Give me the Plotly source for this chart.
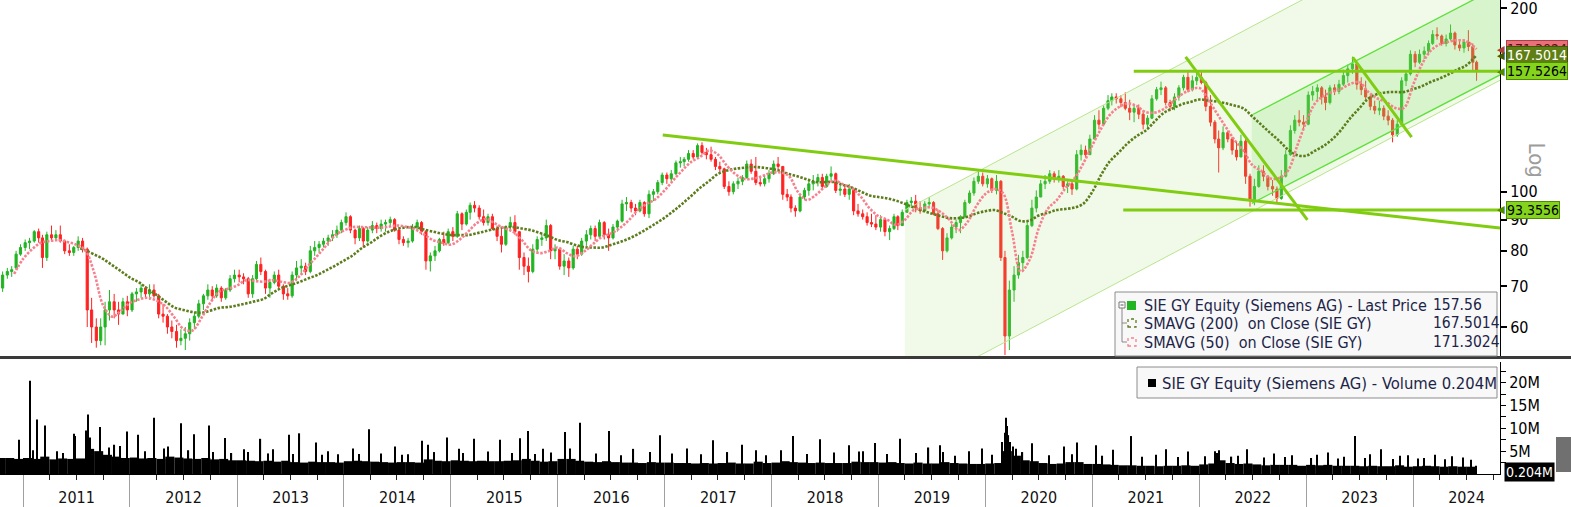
import numpy as np
import plotly.graph_objects as go

# ---------------------------------------------------------------- data
# semi-monthly candles
candle_dates = (['2010-10-23', '2010-11-08', '2010-11-23', '2010-12-08', '2010-12-23']
                + [f'{y}-{m:02d}-{d:02d}' for y in range(2011, 2024) for m in range(1, 13) for d in (8, 23)]
                + [f'2024-{m:02d}-{d:02d}' for m in range(1, 8) for d in (8, 23)] + ['2024-08-05'])

opens = [
    69.5, 73, 74, 75, 79,
    81, 82.5, 83, 86, 84, 78, 85, 84, 85, 83, 80, 79.5, 81, 83, 80.5, 64, 60, 57, 60, 64, 66, 64, 63, 66,
    64, 68, 68.5, 69.5, 68, 69, 67.5, 63, 62.5, 60, 59, 57, 57.5, 58.5, 61, 62.5, 65.5, 67.5, 69, 67.5, 69.5, 67, 69, 72,
    73, 72.5, 72, 68, 72, 76, 74, 69.5, 71, 73, 70, 68, 67.5, 73, 75, 75.5, 74, 80, 81, 82, 83, 84, 85, 86.5,
    89, 91, 86.5, 84, 87, 83, 86.5, 88, 87, 88.5, 89, 90, 86.5, 83.5, 82.5, 83, 87.5, 89, 86, 77, 78.5, 80, 83.5, 82.5,
    86, 84.5, 92, 88.5, 92.5, 95, 94, 91, 89, 91, 87, 84.5, 82, 87.5, 89, 86, 78, 75.5, 74, 80.5, 83.5, 84, 88, 80,
    80.5, 75.5, 77, 75, 80.5, 79, 83, 85, 87, 84.5, 89, 85, 84, 87.5, 89.5, 95.5, 96, 94, 93, 96, 92, 99, 100, 103.5,
    106.5, 105, 107, 111.5, 112, 113, 115.5, 114, 119, 116, 115, 113, 110, 109, 102, 100, 103, 104, 105.5, 111, 108, 103.5, 103, 105,
    107, 111, 110, 99, 98, 94, 93, 98, 100.5, 103, 104, 105.5, 102, 106, 107, 100.5, 101, 99, 101, 93, 92, 91, 89, 88.5,
    87.5, 90, 86, 87, 91, 88, 92.5, 96, 96.5, 94, 93, 95.5, 96, 92, 87, 80, 84, 87.5, 89, 91, 96, 99.5, 104, 106,
    103, 105, 100.5, 104, 78, 58, 69, 73, 76.5, 78, 88, 94, 98, 103, 104, 107, 105, 106, 102, 103, 101, 115, 117, 115,
    122, 131, 129, 137, 141, 143, 142, 140, 137, 135, 137, 134, 129, 132, 142, 147, 148, 140, 138, 143, 148, 154, 147, 152,
    154, 151, 138, 130, 122, 118, 125, 122, 117, 114, 121, 106, 97, 102, 108, 106, 102, 101, 97.5, 106, 115, 126, 131, 130,
    129, 144, 146, 148, 143, 140, 148, 146, 150, 155, 159, 162, 150, 147, 143, 138, 136, 137, 133, 131, 124, 129, 152, 156,
    168, 163, 168, 170, 175, 181, 180, 175, 178, 182, 174, 172, 176, 173, 163,
]
highs = [
    74, 75, 75.5, 80, 82,
    83.5, 84, 86.5, 87, 85, 86, 88, 86.5, 88, 83.5, 82, 81.5, 84.5, 84, 81, 67, 62, 62, 66, 69, 68, 66, 67, 67.5,
    68.5, 69.5, 70.5, 70, 70.5, 70.5, 68, 65.5, 63, 61.5, 60.5, 59.5, 60, 62, 63.5, 66.5, 68, 70.5, 70, 70.5, 70, 69.5, 73, 74.5,
    74.5, 73.5, 72.5, 73, 77, 78, 74.5, 72, 74, 74.5, 70.5, 69.5, 74, 77, 77.5, 76.5, 81.5, 83, 83, 84, 85, 86.5, 88, 90,
    92.5, 91.5, 87, 88, 87.5, 87.5, 89.5, 89, 90, 90, 91, 90.5, 87, 84.5, 84, 88.5, 90, 89.5, 86.5, 79.5, 81.5, 84, 86, 87,
    87.5, 93, 92.5, 93.5, 96, 96.5, 95, 93.5, 92, 92, 88, 87, 88, 91, 91.5, 86, 79.5, 78, 82, 84.5, 85.5, 90, 88.5, 82,
    80.5, 79, 78, 81.5, 81.5, 84, 86.5, 88, 88, 90, 89.5, 87, 88.5, 90, 97, 98, 97, 95.5, 97, 96.5, 100.5, 101, 104.5, 107.5,
    107.5, 108.5, 112.5, 114, 114, 117, 117, 120, 120.5, 118, 118.5, 114, 112, 109.5, 104, 104, 105.5, 106.5, 112.5, 113, 114, 105.5, 106.5, 108.5,
    112.5, 114, 110, 101, 99, 95, 99, 101.5, 105, 106.5, 107, 107, 107, 110, 107.5, 103, 102.5, 103, 101.5, 95.5, 93.5, 92.5, 92, 91.5,
    91.5, 90.5, 88, 92, 91.5, 93.5, 97, 98, 98.8, 96.5, 96.5, 98, 96.5, 93.5, 87.5, 85.5, 88.5, 90, 91.5, 97, 100.5, 105.5, 108.5, 107.5,
    106.5, 105.5, 106.5, 104.5, 80, 71.5, 75.5, 78.8, 80, 89.5, 97, 100.5, 104.5, 106.5, 108.5, 108, 108.5, 106.5, 104, 104.5, 117, 119.5, 119, 124,
    133.5, 136, 138.5, 144, 145, 145, 144, 145.5, 141.5, 139, 139, 136, 133.5, 144, 148.5, 151.5, 149, 141.5, 145, 149.5, 155.5, 157.5, 155, 157,
    158, 152, 144, 131, 126, 128, 126, 123, 121, 124, 122, 107, 105, 110.5, 110.5, 106.5, 104.5, 102, 108.5, 117, 128.5, 133.5, 136, 133.5,
    146, 149, 150, 149, 147, 149.5, 150, 152.5, 158.5, 161.5, 166.5, 163, 154, 152, 144, 141, 141, 138.5, 136, 132, 131, 154, 158, 170.5,
    170, 171, 173, 177, 184, 186, 181, 181, 188, 183, 177, 178, 184, 175, 164,
]
lows = [
    68.5, 72, 72.5, 74.5, 78.5,
    80, 80.5, 82.5, 82.5, 75, 77, 83, 83, 82.5, 79, 78.5, 78.5, 80, 79.5, 60, 56.5, 55.5, 56, 56, 61.5, 62, 60.5, 63, 62.5,
    63.5, 66, 67, 67, 66.5, 67, 62, 61, 58.5, 57.5, 55.5, 56, 55, 57, 59.5, 62, 64, 66.5, 66.5, 67, 66, 66.5, 68.5, 71,
    71, 70.5, 67, 67, 71.5, 73, 68, 67, 70.5, 69.5, 66.5, 66.5, 67, 71.5, 73, 73, 73.5, 78.5, 79.5, 81, 81.5, 83, 84, 85.5,
    88, 85.5, 82, 83, 81, 82.5, 85.5, 85.5, 86, 86, 87.5, 86, 82, 81.5, 81, 82.5, 86.5, 85, 74.5, 74, 77, 79.5, 81.5, 82,
    83, 84, 86.5, 88, 90, 92.5, 90, 88, 88, 86.5, 83, 79.5, 81.5, 86, 85, 74.5, 73, 71, 73.5, 79.5, 81.5, 83, 77.5, 77.5,
    74.5, 73, 72.5, 74.5, 77.5, 78.5, 81.5, 83.5, 83, 84, 83.5, 80, 83.5, 86, 89, 93, 92.5, 91.5, 92.5, 91, 90.5, 96.5, 99, 102.5,
    103, 104, 106.5, 109.5, 110, 112, 113, 113.5, 115, 113, 112, 108.5, 107.5, 101, 98.5, 99, 101, 102.5, 105, 107, 102.5, 102, 102, 103.5,
    106.5, 108.5, 97, 96.5, 92.5, 91, 92.5, 97, 98.5, 100.5, 102, 101, 101.5, 104.5, 99.5, 98.5, 98, 97, 91.5, 91, 90, 88, 87.5, 86.5,
    86, 84.5, 83.3, 86.5, 86.5, 88, 92.5, 94.5, 92.5, 92, 93, 94.5, 91.5, 86.5, 77.3, 79.5, 83.5, 85.5, 85.5, 90.5, 95.5, 98.5, 103, 102,
    101.5, 99.5, 99, 77, 54, 55, 66, 72, 74, 77.5, 87.5, 92.5, 98, 101, 103, 103.5, 103.5, 101, 99.5, 98.8, 100.5, 112.5, 113.5, 115,
    121.5, 126.5, 128.5, 136, 138.5, 139.5, 137.5, 136, 131, 130, 131.5, 126.5, 126.5, 131.5, 141, 144, 138.5, 135.5, 136, 141, 146.5, 145.5, 146, 149.5,
    150, 135.5, 128, 120, 107.5, 117, 120.5, 115, 112.5, 114, 103, 94.5, 95, 101.5, 104, 100.5, 98.5, 96, 97, 105.5, 114.5, 124.5, 128, 126,
    128.5, 141, 141.5, 139, 136, 139, 144, 144.5, 149, 151, 156, 147, 144, 141.5, 136, 134, 133.5, 131, 128.5, 120.5, 123, 128.5, 149, 155,
    160, 162, 165, 167.5, 174, 177.5, 173.5, 173, 177, 171, 170, 169, 170, 158, 152,
]
closes = [
    73, 74, 74.5, 79, 81,
    82.5, 83, 86, 84, 78, 85, 84, 85, 83, 80, 79.5, 81, 83, 80.5, 64, 60, 57, 60, 64, 66, 64, 63, 66, 64,
    68, 68.5, 69.5, 68, 69, 67.5, 63, 62.5, 60, 59, 57, 57.5, 58.5, 61, 62.5, 65.5, 67.5, 69, 67.5, 69.5, 67, 69, 72, 73,
    72.5, 72, 68, 72, 76, 74, 69.5, 71, 73, 70, 68, 67.5, 73, 75, 75.5, 74, 80, 81, 82, 83, 84, 85, 86.5, 89,
    91, 86.5, 84, 87, 83, 86.5, 88, 87, 88.5, 89, 90, 86.5, 83.5, 82.5, 83, 87.5, 89, 86, 77, 78.5, 80, 83.5, 82.5, 86,
    84.5, 92, 88.5, 92.5, 95, 94, 91, 89, 91, 87, 84.5, 82, 87.5, 89, 86, 78, 75.5, 74, 80.5, 83.5, 84, 88, 80, 80.5,
    75.5, 77, 75, 80.5, 79, 83, 85, 87, 84.5, 89, 85, 84, 87.5, 89.5, 95.5, 96, 94, 93, 96, 92, 99, 100, 103.5, 106.5,
    105, 107, 111.5, 112, 113, 115.5, 114, 119, 116, 115, 113, 110, 109, 102, 100, 103, 104, 105.5, 111, 108, 103.5, 103, 105, 107,
    111, 110, 99, 98, 94, 93, 98, 100.5, 103, 104, 105.5, 102, 106, 107, 100.5, 101, 99, 101, 93, 92, 91, 89, 88.5, 87.5,
    90, 86, 87, 91, 88, 92.5, 96, 96.5, 94, 93, 95.5, 96, 92, 87, 80, 84, 87.5, 89, 91, 96, 99.5, 104, 106, 103,
    105, 100.5, 104, 78, 58, 69, 73, 76.5, 78, 88, 94, 98, 103, 104, 107, 105, 106, 102, 103, 101, 115, 117, 115, 122,
    131, 129, 137, 141, 143, 142, 140, 137, 135, 137, 134, 129, 132, 142, 147, 148, 140, 138, 143, 148, 154, 147, 152, 154,
    151, 138, 130, 122, 118, 125, 122, 117, 114, 121, 106, 97, 102, 108, 106, 102, 101, 97.5, 106, 115, 126, 131, 130, 129,
    144, 146, 148, 143, 140, 148, 146, 150, 155, 159, 162, 150, 147, 143, 138, 136, 137, 133, 131, 124, 129, 152, 156, 168,
    163, 168, 170, 175, 181, 180, 175, 178, 182, 174, 172, 176, 173, 163, 157.56,
]

# moving averages, monthly readings
sma200_dates = (['2011-07-15'] + [f'2011-{m:02d}-01' for m in range(8, 13)]
                + [f'{y}-{m:02d}-01' for y in range(2012, 2024) for m in range(1, 13)]
                + [f'2024-{m:02d}-01' for m in range(1, 8)] + ['2024-08-05'])
sma200 = [
    80.8, 80.2, 78.9, 77.6, 75.8, 74.1,
    72.3, 71.0, 69.3, 67.7, 66.1, 64.6, 64.0, 63.5, 63.3, 63.8, 64.5, 64.7,
    65.1, 65.6, 66.1, 66.7, 68.2, 69.5, 70.3, 71.1, 72.1, 73.0, 74.3, 75.6,
    77.1, 78.7, 80.7, 82.4, 84.3, 85.9, 86.9, 87.4, 87.5, 86.7, 86.0, 85.4,
    84.9, 84.9, 84.9, 85.5, 86.2, 86.9, 87.4, 87.5, 87.0, 86.5, 85.6, 84.6,
    83.3, 82.7, 81.8, 81.1, 81.0, 81.0, 81.8, 82.7, 83.8, 85.2, 86.9, 88.7,
    90.7, 93.1, 95.5, 98.4, 101.4, 104.1, 106.9, 108.3, 109.1, 109.5, 109.8, 109.5,
    109.0, 108.1, 106.9, 105.9, 104.8, 103.7, 103.7, 103.7, 102.6, 101.6, 100.1, 98.6,
    98.0, 97.5, 96.7, 95.5, 94.2, 93.1, 92.1, 91.2, 90.5, 90.5, 91.0, 92.1,
    92.9, 93.3, 92.3, 91.0, 89.5, 89.7, 91.4, 92.3, 93.3, 93.7, 94.2, 95.6,
    100.1, 106.9, 112.1, 116.0, 120.0, 123.4, 125.9, 130.3, 134.6, 136.9, 139.0, 140.3,
    141.6, 141.1, 140.5, 139.6, 138.4, 136.9, 132.8, 128.7, 124.7, 121.1, 117.1, 114.8,
    114.6, 116.8, 118.8, 122.0, 126.4, 132.1, 136.9, 142.1, 144.6, 145.5, 145.7, 145.7,
    147.3, 149.0, 151.3, 153.3, 155.7, 158.6, 161.1, 167.5014,
]
sma50_dates = (['2010-12-01'] + [f'{y}-{m:02d}-01' for y in range(2011, 2024) for m in range(1, 13)]
               + [f'2024-{m:02d}-01' for m in range(1, 8)] + ['2024-08-05'])
sma50 = [
    73.3,
    77.6, 80.5, 82.4, 83.0, 83.3, 82.7, 81.9, 80.2, 73.6, 65.2, 62.4, 63.8,
    65.7, 66.6, 67.0, 66.3, 64.9, 62.2, 59.6, 59.2, 62.1, 65.7, 68.6, 69.3,
    70.2, 71.6, 71.4, 71.2, 71.6, 71.2, 70.9, 72.6, 75.6, 78.4, 81.6, 84.8,
    86.4, 87.5, 87.5, 87.4, 87.3, 87.6, 88.0, 87.6, 86.7, 85.1, 83.3, 82.5,
    81.9, 83.5, 86.0, 88.9, 90.2, 88.7, 87.2, 86.0, 83.3, 80.2, 79.3, 79.9,
    81.0, 79.3, 78.4, 79.8, 82.1, 84.4, 85.4, 87.2, 89.9, 93.3, 95.5, 97.3,
    100.6, 104.7, 108.3, 111.9, 114.0, 116.8, 115.1, 110.3, 106.7, 104.9, 105.1, 106.1,
    107.5, 107.5, 106.1, 99.9, 96.9, 98.8, 101.8, 104.3, 102.9, 101.4, 98.2, 94.0,
    91.2, 89.9, 88.2, 89.9, 93.3, 94.0, 94.2, 92.6, 89.9, 86.5, 89.2, 94.7,
    99.1, 101.0, 99.5, 86.0, 74.0, 77.5, 87.0, 93.7, 96.9, 101.4, 105.3, 111.4,
    119.3, 127.3, 133.6, 137.6, 139.5, 138.2, 135.1, 134.8, 136.6, 140.3, 144.3, 146.8,
    147.9, 141.4, 134.6, 127.7, 121.6, 116.6, 110.6, 108.1, 105.1, 105.3, 108.5, 118.8,
    130.1, 139.8, 143.5, 145.8, 147.5, 150.2, 151.3, 145.7, 142.2, 140.3, 137.2, 137.2,
    149.6, 162.0, 170.2, 174.4, 176.1, 177.1, 176.4, 171.3024,
]

# volume (millions): monthly typical level + individual spike days
vol_month_dates = (['2010-10-16', '2010-11-16', '2010-12-16']
                   + [f'{y}-{m:02d}-16' for y in range(2011, 2024) for m in range(1, 13)]
                   + [f'2024-{m:02d}-16' for m in range(1, 8)] + ['2024-08-03'])
vol_month = [
    3.5, 3.5, 3.3,
    3.5, 3.3, 3.8, 3.2, 3.4, 3.3, 3.4, 5.5, 5.0, 4.2, 3.8, 3.5,
    3.6, 3.4, 3.5, 3.3, 3.8, 3.6, 3.4, 3.3, 3.5, 3.2, 3.3, 3.0,
    3.0, 2.9, 2.8, 2.9, 2.7, 2.9, 2.6, 2.5, 2.7, 2.6, 2.6, 2.5,
    2.8, 2.9, 2.8, 2.7, 2.6, 2.5, 2.6, 2.6, 2.5, 3.2, 2.9, 2.8,
    3.0, 2.9, 2.8, 2.9, 2.8, 2.8, 2.9, 3.0, 3.3, 2.9, 2.7, 2.8,
    3.3, 3.3, 2.9, 2.7, 2.6, 2.8, 2.6, 2.5, 2.5, 2.4, 2.6, 2.5,
    2.5, 2.4, 2.4, 2.3, 2.4, 2.3, 2.4, 2.5, 2.3, 2.3, 2.7, 2.4,
    2.5, 2.8, 2.6, 2.5, 2.4, 2.5, 2.4, 2.4, 2.4, 2.7, 2.6, 2.6,
    2.5, 2.6, 2.4, 2.3, 2.5, 2.3, 2.3, 2.6, 2.4, 2.3, 2.2, 2.2,
    2.3, 2.4, 5.0, 4.0, 3.0, 2.8, 2.4, 2.2, 2.3, 2.6, 2.6, 2.2,
    2.2, 2.1, 2.0, 1.9, 1.9, 1.8, 1.8, 1.7, 1.8, 1.8, 1.9, 1.8,
    2.1, 2.3, 3.0, 2.4, 2.2, 2.3, 2.1, 1.9, 2.0, 2.0, 2.0, 1.8,
    2.0, 1.9, 2.0, 1.8, 1.8, 1.8, 1.7, 1.8, 1.7, 1.7, 1.9, 1.6,
    1.7, 1.8, 1.7, 1.6, 1.7, 1.6, 1.6, 1.8,
]
vol_spikes = [
    ('2010-12-17', 7.5), ('2011-01-25', 20.4), ('2011-02-18', 11.9), ('2011-03-18', 10.6),
    ('2011-06-24', 8.8), ('2011-06-28', 8.3), ('2011-08-05', 9.5), ('2011-08-10', 13.0),
    ('2011-08-18', 8.0), ('2011-09-20', 10.3), ('2011-11-09', 6.4), ('2011-11-28', 6.1),
    ('2011-12-22', 9.3), ('2012-01-27', 8.6), ('2012-03-22', 12.3), ('2012-05-10', 6.0),
    ('2012-06-22', 11.1), ('2012-08-06', 8.7), ('2012-09-28', 10.6), ('2012-11-20', 7.9),
    ('2013-01-24', 5.4), ('2013-03-22', 7.7), ('2013-05-03', 5.4), ('2013-06-27', 8.6),
    ('2013-08-02', 8.9), ('2013-09-27', 6.9), ('2013-11-07', 5.0), ('2014-01-31', 5.6),
    ('2014-03-27', 9.8), ('2014-06-24', 6.0), ('2014-08-07', 4.3), ('2014-09-24', 7.3),
    ('2014-10-16', 6.4), ('2014-12-19', 8.0), ('2015-01-29', 5.5), ('2015-03-20', 7.7),
    ('2015-06-19', 7.5), ('2015-08-24', 7.8), ('2015-09-21', 9.4), ('2015-11-12', 5.5),
    ('2016-01-26', 9.2), ('2016-03-18', 11.2), ('2016-06-24', 9.4), ('2016-09-16', 5.5),
    ('2016-12-16', 8.5), ('2017-03-17', 5.6), ('2017-06-16', 7.4), ('2017-09-22', 6.4),
    ('2017-11-09', 5.2), ('2018-03-16', 8.3), ('2018-06-15', 7.6), ('2018-09-21', 6.3),
    ('2018-11-08', 5.0), ('2018-12-21', 6.8), ('2019-03-15', 7.7), ('2019-06-21', 5.8),
    ('2019-07-31', 6.3), ('2019-11-07', 5.0), ('2019-12-20', 5.6), ('2020-02-28', 7.0),
    ('2020-03-09', 9.0), ('2020-03-12', 12.3), ('2020-03-16', 10.5), ('2020-03-20', 8.5),
    ('2020-03-24', 7.0), ('2020-04-03', 6.0), ('2020-04-16', 5.5), ('2020-06-08', 6.7),
    ('2020-09-25', 6.0), ('2020-11-09', 6.9), ('2021-01-13', 6.3), ('2021-03-12', 5.3),
    ('2021-05-14', 8.3), ('2021-08-05', 4.2), ('2021-09-09', 5.4), ('2021-11-23', 4.9),
    ('2022-02-23', 5.0), ('2022-03-04', 4.6), ('2022-03-08', 5.2), ('2022-05-12', 4.0),
    ('2022-06-13', 5.4), ('2022-09-12', 4.5), ('2022-11-14', 4.1), ('2023-02-06', 4.2),
    ('2023-03-16', 4.7), ('2023-05-11', 3.8), ('2023-06-16', 8.3), ('2023-08-07', 4.3),
    ('2023-09-13', 5.4), ('2023-10-24', 3.3), ('2023-11-16', 4.0), ('2023-12-15', 4.1),
    ('2024-02-08', 3.5), ('2024-03-15', 4.2), ('2024-05-13', 3.9), ('2024-06-21', 3.6),
    # smaller spikes giving the ragged top of the volume mass
    ('2011-02-03', 5.2), ('2011-04-28', 5.0), ('2011-05-17', 4.6), ('2011-10-20', 5.8),
    ('2012-02-22', 5.0), ('2012-04-26', 5.6), ('2012-07-19', 5.2), ('2012-10-11', 4.8),
    ('2012-12-13', 4.6), ('2013-02-07', 4.8), ('2013-04-18', 4.5), ('2013-07-11', 4.4),
    ('2013-10-17', 4.2), ('2013-12-12', 4.3), ('2014-02-20', 4.4), ('2014-05-08', 4.5),
    ('2014-07-17', 4.2), ('2014-11-06', 4.8), ('2015-02-12', 4.6), ('2015-05-07', 4.9),
    ('2015-07-30', 4.6), ('2015-10-15', 4.4), ('2015-12-10', 4.7), ('2016-02-11', 5.6),
    ('2016-05-12', 4.5), ('2016-08-04', 4.1), ('2016-11-10', 4.8), ('2017-01-26', 4.5),
    ('2017-05-05', 4.3), ('2017-08-03', 4.8), ('2017-12-14', 4.1), ('2018-02-01', 5.2),
    ('2018-05-03', 4.4), ('2018-08-02', 4.7), ('2018-10-25', 4.9), ('2019-01-31', 4.4),
    ('2019-05-08', 4.6), ('2019-08-08', 4.8), ('2019-09-20', 4.0), ('2020-01-23', 4.2),
    ('2020-05-07', 4.8), ('2020-08-06', 4.1), ('2020-10-22', 4.3), ('2021-02-04', 4.0),
    ('2021-06-18', 3.8), ('2021-10-21', 3.7), ('2022-01-20', 3.9), ('2022-04-21', 3.8),
    ('2022-08-11', 3.6), ('2022-10-20', 3.7), ('2023-01-19', 3.5), ('2023-04-20', 3.4),
    ('2023-07-20', 3.5), ('2024-01-18', 3.4), ('2024-04-18', 3.2), ('2024-07-18', 3.1),
]

# drawn annotations (trend lines / channels), endpoints
resist_dates, resist_vals = ['2016-12-25', '2024-10-24'], [123.9, 87.2]
down_a_dates, down_a_vals = ['2021-11-15', '2023-01-05'], [166.4, 89.9]
down_b_dates, down_b_vals = ['2023-06-09', '2023-12-27'], [166.0, 122.9]
level_hi_dates, level_hi_vals = ['2021-05-22', '2024-10-24'], [157.5264, 157.5264]
level_lo_dates, level_lo_vals = ['2021-04-16', '2024-10-24'], [93.3556, 93.3556]
outer_dates = ['2019-04-01', '2024-10-24']
outer_upper, outer_lower = [93.3, 306.2], [46.4, 152.3]
inner_dates = ['2022-06-29', '2024-10-24']
inner_upper, inner_lower = [133.6, 217.4], [95.7, 155.4]

price_ticks = [60, 70, 80, 90, 100, 200]
vol_ticks = [2.5, 5, 7.5, 10, 12.5, 15, 17.5, 20, 22.5]
vol_ticktext = ['', '5M', '', '10M', '', '15M', '', '20M', '']
x_range = ['2010-10-14', '2024-10-24']

# ---------------------------------------------------------------- style
FONT = 'DejaVu Sans Condensed, Liberation Sans, Arial, sans-serif'
TXT = '#1c2448'
UP, DOWN = '#22b422', '#ff2222'
OLIVE, PINK, LIME = '#5d7d1c', '#f7808e', '#80cc10'
PW, PH = 1500, 474


def px(x):
    return x / PW


def py(y):
    return (PH - y) / PH


fig = go.Figure()

# channels
fig.add_trace(go.Scatter(x=[outer_dates[0], outer_dates[1], outer_dates[1], outer_dates[0], outer_dates[0]],
                         y=[outer_upper[0], outer_upper[1], outer_lower[1], outer_lower[0], outer_upper[0]],
                         fill='toself', fillcolor='rgba(170,225,120,0.16)', line=dict(width=0),
                         mode='lines', hoverinfo='skip'))
fig.add_trace(go.Scatter(x=[inner_dates[0], inner_dates[1], inner_dates[1], inner_dates[0], inner_dates[0]],
                         y=[inner_upper[0], inner_upper[1], inner_lower[1], inner_lower[0], inner_upper[0]],
                         fill='toself', fillcolor='rgba(120,220,90,0.20)', line=dict(width=0),
                         mode='lines', hoverinfo='skip'))
for yy in (outer_upper, outer_lower):
    fig.add_trace(go.Scatter(x=outer_dates, y=yy, mode='lines', line=dict(color='#b9e58e', width=1)))
for yy in (inner_upper, inner_lower):
    fig.add_trace(go.Scatter(x=inner_dates, y=yy, mode='lines', line=dict(color='#5ee03a', width=1.3)))

# candles
fig.add_trace(go.Candlestick(x=candle_dates, open=opens, high=highs, low=lows, close=closes,
                             increasing=dict(line=dict(color=UP, width=1), fillcolor=UP),
                             decreasing=dict(line=dict(color=DOWN, width=1), fillcolor=DOWN),
                             whiskerwidth=0))

# moving averages
fig.add_trace(go.Scatter(x=sma200_dates, y=sma200, mode='lines',
                         line=dict(color=OLIVE, width=2.6, dash='2.5px,1.5px', shape='spline')))
fig.add_trace(go.Scatter(x=sma50_dates, y=sma50, mode='lines',
                         line=dict(color=PINK, width=2.6, dash='2.5px,1.5px', shape='spline')))

# trend lines
for dx, vy in ((resist_dates, resist_vals), (down_a_dates, down_a_vals), (down_b_dates, down_b_vals),
               (level_hi_dates, level_hi_vals), (level_lo_dates, level_lo_vals)):
    fig.add_trace(go.Scatter(x=dx, y=vy, mode='lines', line=dict(color=LIME, width=3)))

# volume
vol_widths = [31 * 86400000] * (len(vol_month) - 1) + [6 * 86400000]
fig.add_trace(go.Bar(x=vol_month_dates, y=vol_month, width=vol_widths, marker=dict(color='black', line=dict(width=0)),
                     xaxis='x2', yaxis='y2'))
fig.add_trace(go.Bar(x=[d for d, _ in vol_spikes], y=[v for _, v in vol_spikes], width=4 * 86400000,
                     marker=dict(color='black', line=dict(width=0)), xaxis='x2', yaxis='y2'))

fig.update_layout(
    width=1571, height=507, margin=dict(l=0, r=71, t=0, b=33, autoexpand=False),
    paper_bgcolor='white', plot_bgcolor='white', showlegend=False,
    barmode='overlay', boxgap=0.2,
    font=dict(family=FONT, color='black', size=15),
    xaxis=dict(type='date', range=x_range, domain=[0, 1], anchor='y', showticklabels=False,
               showgrid=False, zeroline=False, rangeslider=dict(visible=False), ticks='', automargin=False),
    yaxis=dict(type='log', range=[1.72902, 2.31426], domain=[py(357), 1], side='right',
               tickvals=price_ticks, ticktext=[str(t) for t in price_ticks], ticks='outside',
               ticklen=6, tickwidth=2, tickcolor='black', showline=True, linecolor='black',
               linewidth=1, showgrid=False, zeroline=False, automargin=False,
               ticklabeloverflow='allow', tickfont=dict(size=16, color='black')),
    xaxis2=dict(type='date', range=x_range, domain=[0, 1], anchor='y2', showgrid=False,
                zeroline=False, showline=True, linecolor='black', linewidth=1, automargin=False,
                dtick='M12', tick0='2011-01-01', tickformat='%Y', ticklabelmode='period',
                ticks='outside', ticklen=33, tickcolor='#a0a0a0', tickwidth=1,
                ticklabelstandoff=-24, ticklabeloverflow='allow', tickfont=dict(size=16, color='#111'),
                minor=dict(dtick='M3', tick0='2011-01-01', ticks='outside', ticklen=5,
                           tickcolor='#222', showgrid=False)),
    yaxis2=dict(range=[0, 24.5], domain=[0, py(362)], anchor='x2', side='right',
                tickvals=vol_ticks, ticktext=vol_ticktext, ticks='outside', ticklen=5,
                tickcolor='black', showline=True, linecolor='black', linewidth=1, automargin=False,
                showgrid=False, zeroline=False, tickfont=dict(size=16, color='black')),
)

shapes = []
# separator between panels
shapes.append(dict(type='line', xref='paper', yref='paper', x0=0, x1=1571 / PW, y0=py(357.5), y1=py(357.5),
                   line=dict(color='#3a3a3a', width=3)))
# main legend box
shapes.append(dict(type='rect', xref='paper', yref='paper', x0=px(1115), x1=px(1497), y0=py(356), y1=py(292),
                   line=dict(color='#8c8c8c', width=1), fillcolor='#f8f8f8', layer='above'))
shapes.append(dict(type='rect', xref='paper', yref='paper', x0=px(1119), x1=px(1125), y0=py(308), y1=py(302),
                   line=dict(color='#777', width=1), fillcolor='white', layer='above'))
shapes.append(dict(type='line', xref='paper', yref='paper', x0=px(1120.5), x1=px(1123.5), y0=py(305), y1=py(305),
                   line=dict(color='#555', width=1), layer='above'))
shapes.append(dict(type='rect', xref='paper', yref='paper', x0=px(1127), x1=px(1136), y0=py(310), y1=py(301),
                   line=dict(color=UP, width=0), fillcolor=UP, layer='above'))
shapes.append(dict(type='line', xref='paper', yref='paper', x0=px(1122), x1=px(1122), y0=py(308), y1=py(342),
                   line=dict(color='#888', width=1), layer='above'))
for yy, col in ((323, OLIVE), (342, PINK)):
    shapes.append(dict(type='line', xref='paper', yref='paper', x0=px(1122), x1=px(1127), y0=py(yy), y1=py(yy),
                       line=dict(color='#888', width=1), layer='above'))
    shapes.append(dict(type='rect', xref='paper', yref='paper', x0=px(1128), x1=px(1136), y0=py(yy + 4),
                       y1=py(yy - 4), line=dict(color=col, width=1.3, dash='dot'), fillcolor='#f8f8f8',
                       layer='above'))
# volume legend box
shapes.append(dict(type='rect', xref='paper', yref='paper', x0=px(1137), x1=px(1497), y0=py(398), y1=py(367),
                   line=dict(color='#8c8c8c', width=1), fillcolor='#f8f8f8', layer='above'))
shapes.append(dict(type='rect', xref='paper', yref='paper', x0=px(1148), x1=px(1156), y0=py(387), y1=py(379),
                   line=dict(width=0), fillcolor='black', layer='above'))
# small grey button at right
shapes.append(dict(type='rect', xref='paper', yref='paper', x0=px(1556), x1=px(1575), y0=py(472), y1=py(437),
                   line=dict(width=0), fillcolor='#707070', layer='above'))
fig.update_layout(shapes=shapes)

ann = []
legend_rows = [('SIE GY Equity (Siemens AG) - Last Price', '157.56', 305),
               ('SMAVG (200)  on Close (SIE GY)', '167.5014', 323),
               ('SMAVG (50)  on Close (SIE GY)', '171.3024', 342)]
for label, val, yy in legend_rows:
    ann.append(dict(x=px(1142), y=py(yy), xref='paper', yref='paper', xanchor='left', yanchor='middle',
                    text=label, showarrow=False, font=dict(size=16, color=TXT)))
    ann.append(dict(x=px(1431), y=py(yy), xref='paper', yref='paper', xanchor='left', yanchor='middle',
                    text=val, showarrow=False, font=dict(size=15.5, color=TXT)))
ann.append(dict(x=px(1160), y=py(383), xref='paper', yref='paper', xanchor='left', yanchor='middle',
                text='SIE GY Equity (Siemens AG) - Volume 0.204M', showarrow=False,
                font=dict(size=16.5, color=TXT)))
ann.append(dict(x=px(1551), y=py(160), xref='paper', yref='paper', text='Log', textangle=90,
                showarrow=False, font=dict(size=22, color='#9d9d9d')))


def price_tag(value, text, bg, fg, border):
    ann.append(dict(x=px(1507), y=np.log10(value), xref='paper', yref='y', xanchor='right', yanchor='middle',
                    text='◀', showarrow=False, font=dict(size=11, color=border)))
    ann.append(dict(x=px(1506), y=np.log10(value), xref='paper', yref='y', xanchor='left', yanchor='middle',
                    text=text, showarrow=False, bgcolor=bg, bordercolor=border, borderwidth=1, borderpad=0,
                    font=dict(size=14, color=fg)))


price_tag(171.3024, '171.3024', '#e8707a', '#5a1010', '#b04040')
price_tag(167.5014, '167.5014', '#5f7f14', 'white', '#3f5a08')
price_tag(157.5264, '157.5264', '#84d41e', 'black', '#4f8a00')
price_tag(93.3556, '93.3556', '#84d41e', 'black', '#4f8a00')
ann.append(dict(x=px(1504), y=py(472), xref='paper', yref='paper', xanchor='left', yanchor='middle',
                text='0.204M', showarrow=False, bgcolor='black', font=dict(size=14, color='white')))
fig.update_layout(annotations=ann)

# page body without the browser's default 8px margin, so the figure sits at the window origin
fig.write_html('out.html', config={'displayModeBar': False},
               post_script="document.body.style.margin='0';document.body.style.overflow='hidden';")
